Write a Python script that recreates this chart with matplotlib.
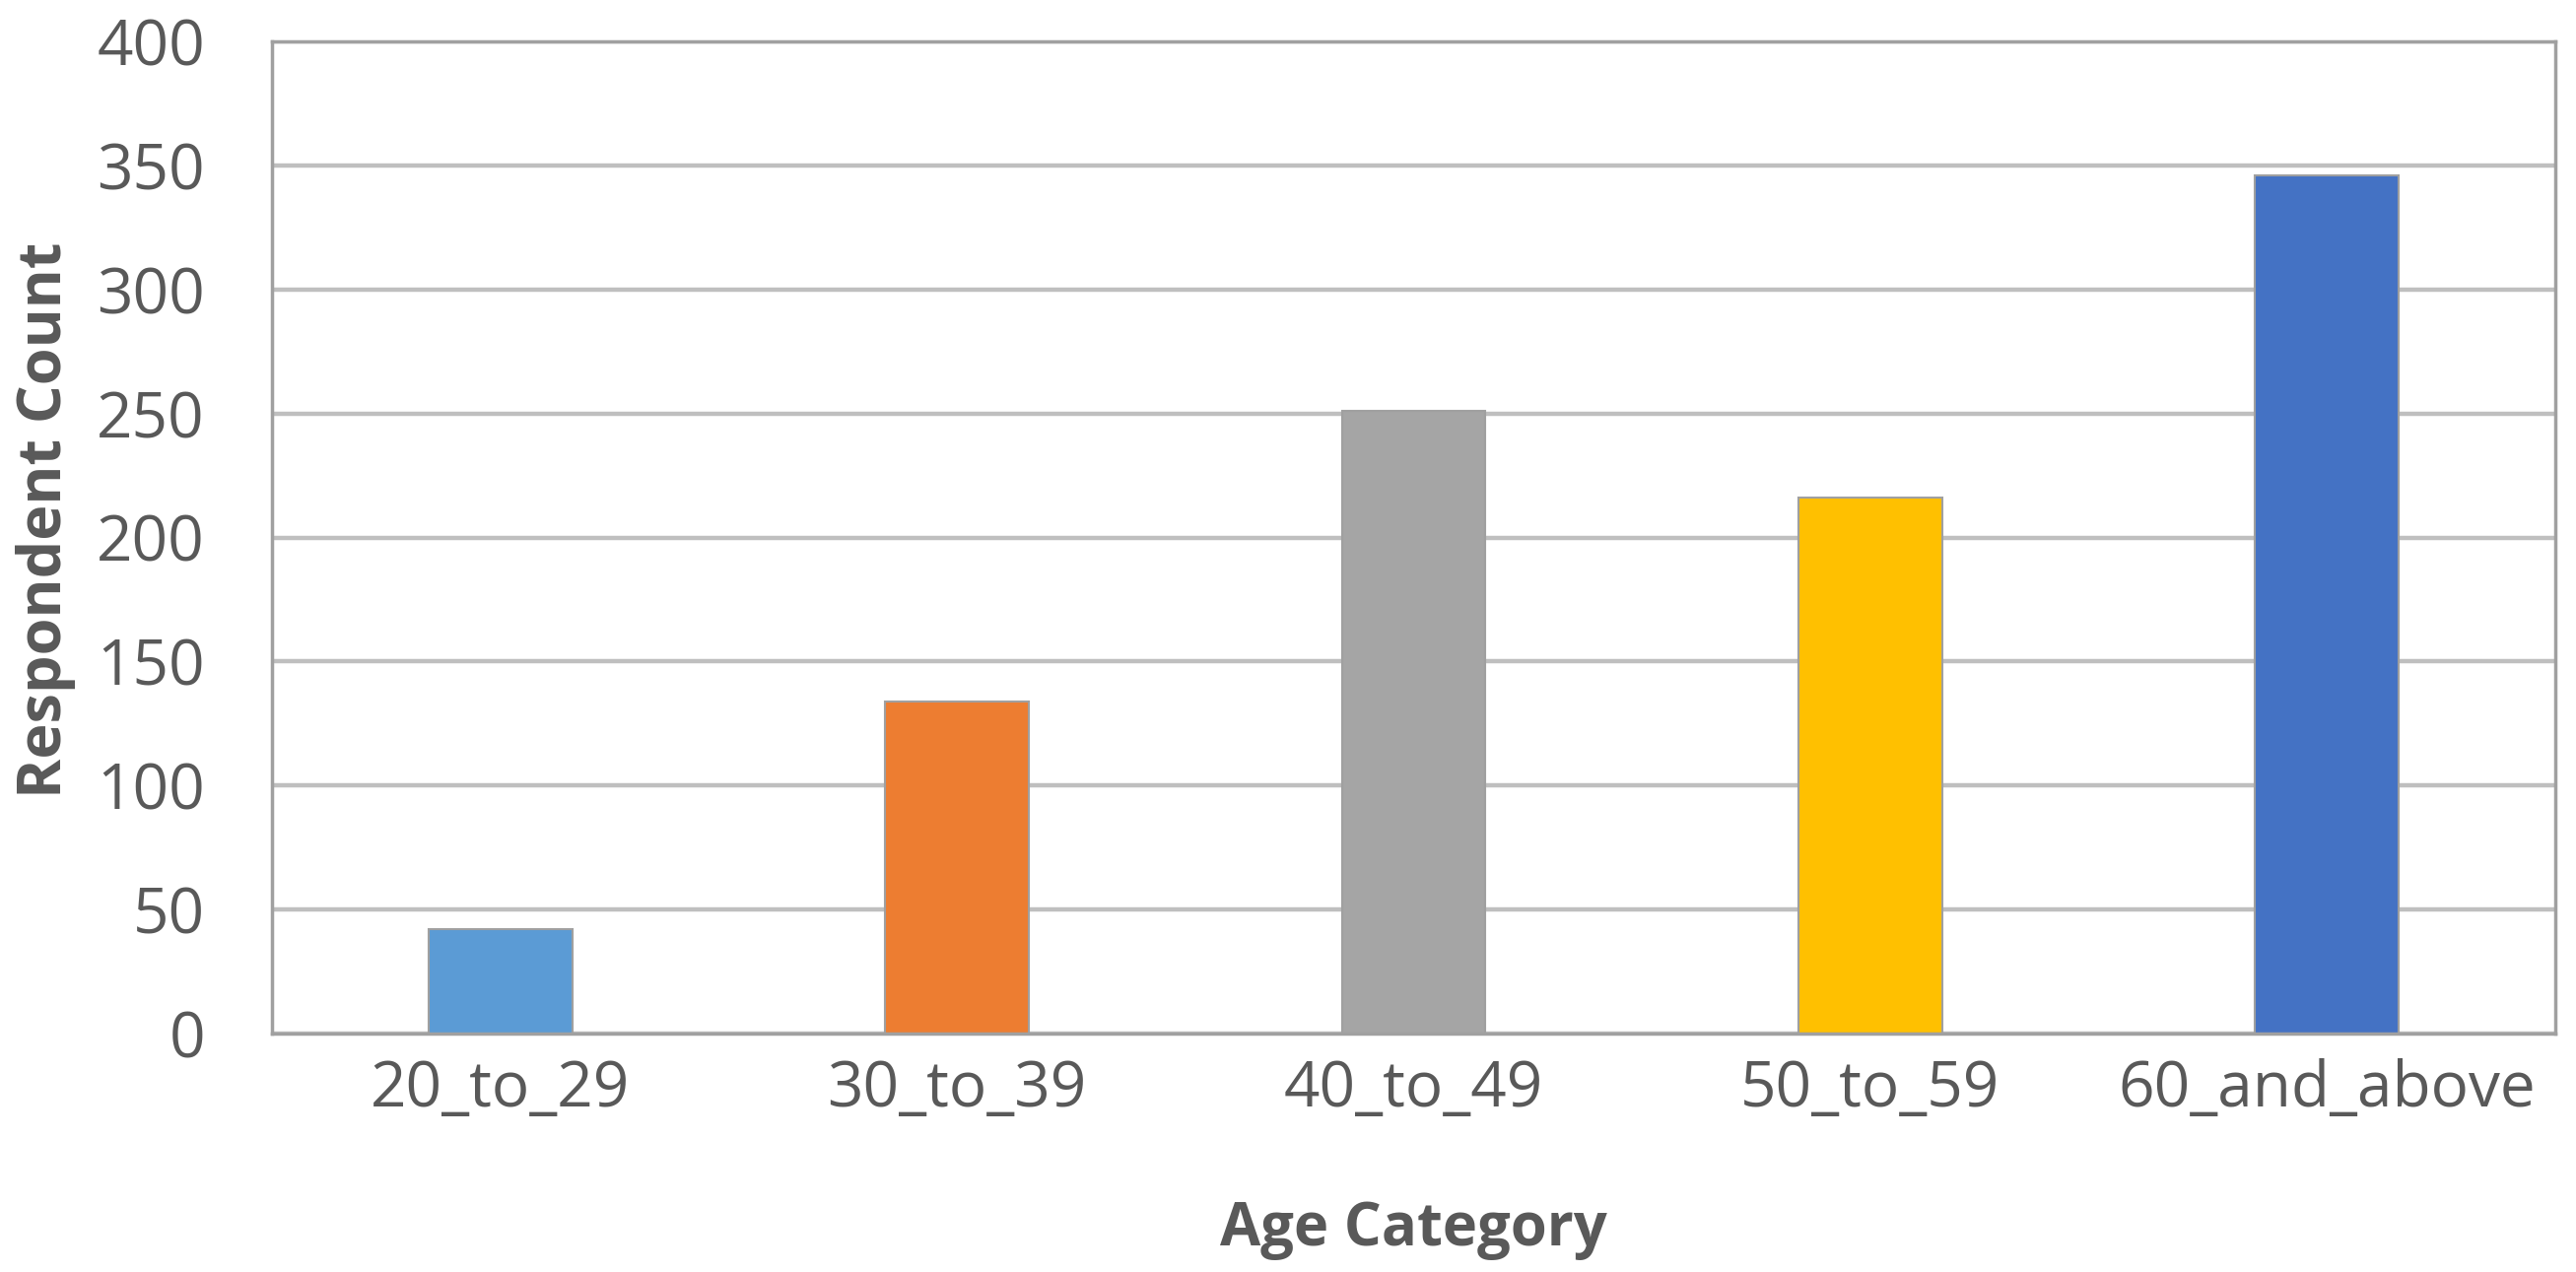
import matplotlib
matplotlib.use("Agg")
import matplotlib.pyplot as plt

# Data
categories = ["20_to_29", "30_to_39", "40_to_49", "50_to_59", "60_and_above"]
counts = [42, 134, 251, 216, 346]
colors = ["#5B9BD5", "#ED7D31", "#A5A5A5", "#FFC000", "#4472C4"]
y_ticks = [0, 50, 100, 150, 200, 250, 300, 350, 400]

text_color = "#595959"
plt.rcParams["font.family"] = ["Open Sans", "DejaVu Sans"]

fig = plt.figure(figsize=(26.14, 12.91), dpi=100)
ax = fig.add_axes([276 / 2614, 1 - 1049 / 1291, (2593 - 276) / 2614, (1049 - 42) / 1291])

ax.set_axisbelow(True)
ax.yaxis.grid(True, color="#BFBFBF", linewidth=3.2)
ax.bar(range(len(categories)), counts, width=0.315, color=colors,
       edgecolor="#A0A0A0", linewidth=1.5)

ax.set_xlim(-0.5, len(categories) - 0.5)
ax.set_ylim(0, 400)
ax.set_yticks(y_ticks)
ax.set_xticks(range(len(categories)))
ax.set_xticklabels(categories)

for s in ax.spines.values():
    s.set_color("#A0A0A0")
    s.set_linewidth(2.5)

ax.tick_params(axis="y", length=0, pad=49, labelsize=46, labelcolor=text_color)
ax.tick_params(axis="x", length=0, pad=18, labelsize=46, labelcolor=text_color)

ax.set_ylabel("Respondent Count", fontsize=44, fontweight="bold", color=text_color)
ax.set_xlabel("Age Category", fontsize=43, fontweight="bold", color=text_color)
ax.yaxis.set_label_coords(-0.086, 0.518)
ax.xaxis.set_label_coords(0.5, -0.168)

fig.savefig("out.png", dpi=100)
